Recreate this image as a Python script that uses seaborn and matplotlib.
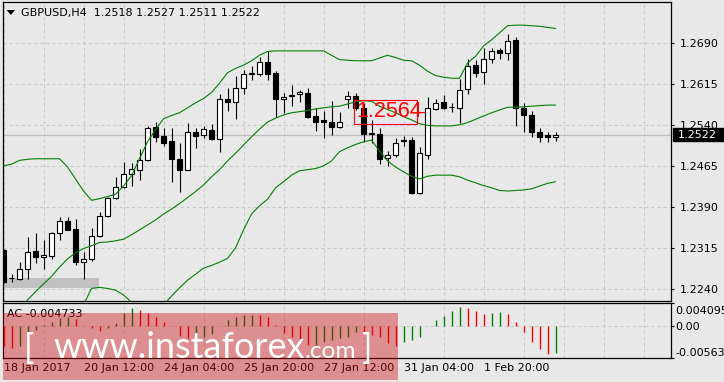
import numpy as np
import pandas as pd
import matplotlib
matplotlib.use("Agg")
import matplotlib.pyplot as plt
import matplotlib.transforms as mtrans
from matplotlib.patches import Rectangle, Polygon
import seaborn as sns

# ---------------- data ----------------
symbol_title = "GBPUSD,H4  1.2518 1.2527 1.2511 1.2522"
date_labels = ["18 Jan 2017", "20 Jan 12:00", "24 Jan 04:00", "25 Jan 20:00",
               "27 Jan 12:00", "31 Jan 04:00", "1 Feb 20:00"]
date_label_bars = [0, 10, 20, 30, 40, 50, 60]
price_ticks = [1.2240, 1.2315, 1.2390, 1.2465, 1.2540, 1.2615, 1.2690]

opens = [1.2311, 1.2261, 1.2258, 1.2276, 1.2309, 1.2298, 1.2301, 1.2342, 1.2364, 1.2349,
         1.2290, 1.2294, 1.2336, 1.2373, 1.2406, 1.2426, 1.2451, 1.2457, 1.2476, 1.2536,
         1.2519, 1.2510, 1.2477, 1.2458, 1.2527, 1.2521, 1.2530, 1.2514, 1.2588, 1.2581,
         1.2608, 1.2633, 1.2633, 1.2655, 1.2634, 1.2587, 1.2594, 1.2596, 1.2599, 1.2556,
         1.2548, 1.2546, 1.2536, 1.2588, 1.2593, 1.2570, 1.2525, 1.2524, 1.2479, 1.2484,
         1.2512, 1.2513, 1.2415, 1.2485, 1.2569, 1.2581, 1.2573, 1.2570, 1.2605, 1.2649,
         1.2637, 1.2660, 1.2677, 1.2672, 1.2695, 1.2571, 1.2558, 1.2526, 1.2521, 1.2518]
highs = [1.2313, 1.2267, 1.2290, 1.2335, 1.2342, 1.2329, 1.2344, 1.2372, 1.2372, 1.2367,
         1.2307, 1.2352, 1.2381, 1.2409, 1.2444, 1.2472, 1.2471, 1.2496, 1.2538, 1.2545,
         1.2534, 1.2534, 1.2506, 1.2543, 1.2534, 1.2538, 1.2542, 1.2597, 1.2607, 1.2629,
         1.2640, 1.2647, 1.2664, 1.2675, 1.2639, 1.2598, 1.2612, 1.2604, 1.2607, 1.2570,
         1.2565, 1.2584, 1.2563, 1.2602, 1.2598, 1.2580, 1.2549, 1.2534, 1.2493, 1.2515,
         1.2520, 1.2518, 1.2500, 1.2591, 1.2588, 1.2594, 1.2579, 1.2623, 1.2660, 1.2658,
         1.2681, 1.2680, 1.2680, 1.2706, 1.2700, 1.2579, 1.2565, 1.2534, 1.2526, 1.2527]
lows = [1.2251, 1.2252, 1.2257, 1.2258, 1.2288, 1.2276, 1.2294, 1.2329, 1.2347, 1.2284,
        1.2258, 1.2291, 1.2335, 1.2371, 1.2404, 1.2425, 1.2428, 1.2439, 1.2473, 1.2509,
        1.2502, 1.2435, 1.2418, 1.2457, 1.2498, 1.2516, 1.2512, 1.2491, 1.2565, 1.2550,
        1.2596, 1.2622, 1.2630, 1.2622, 1.2555, 1.2561, 1.2575, 1.2582, 1.2552, 1.2529,
        1.2515, 1.2521, 1.2535, 1.2570, 1.2567, 1.2509, 1.2507, 1.2468, 1.2465, 1.2482,
        1.2502, 1.2414, 1.2414, 1.2477, 1.2567, 1.2569, 1.2564, 1.2543, 1.2596, 1.2628,
        1.2614, 1.2653, 1.2661, 1.2658, 1.2537, 1.2526, 1.2517, 1.2509, 1.2509, 1.2511]
closes = [1.2253, 1.2261, 1.2276, 1.2307, 1.2298, 1.2302, 1.2342, 1.2364, 1.2348, 1.2290,
          1.2294, 1.2336, 1.2373, 1.2406, 1.2426, 1.2450, 1.2459, 1.2476, 1.2534, 1.2518,
          1.2507, 1.2477, 1.2457, 1.2526, 1.2520, 1.2532, 1.2514, 1.2588, 1.2581, 1.2607,
          1.2633, 1.2634, 1.2655, 1.2632, 1.2588, 1.2590, 1.2592, 1.2600, 1.2555, 1.2546,
          1.2546, 1.2536, 1.2546, 1.2593, 1.2570, 1.2524, 1.2524, 1.2478, 1.2485, 1.2507,
          1.2510, 1.2416, 1.2488, 1.2570, 1.2579, 1.2571, 1.2572, 1.2604, 1.2647, 1.2635,
          1.2660, 1.2674, 1.2672, 1.2694, 1.2570, 1.2557, 1.2526, 1.2518, 1.2517, 1.2522]

bb_upper = [1.2465, 1.2468, 1.2475, 1.2477, 1.2478, 1.2478, 1.2478, 1.2478, 1.2463, 1.2441,
            1.2419, 1.2402, 1.2405, 1.2409, 1.2413, 1.2428, 1.2447, 1.2478, 1.2509, 1.2531,
            1.2551, 1.2557, 1.2562, 1.2571, 1.2580, 1.2588, 1.2599, 1.2616, 1.2635, 1.2643,
            1.2649, 1.2657, 1.2667, 1.2674, 1.2675, 1.2675, 1.2675, 1.2675, 1.2675, 1.2675,
            1.2675, 1.2667, 1.2659, 1.2658, 1.2657, 1.2657, 1.2657, 1.2662, 1.2667, 1.2663,
            1.2658, 1.2657, 1.2649, 1.2638, 1.2630, 1.2627, 1.2625, 1.2625, 1.2653, 1.2665,
            1.2684, 1.2695, 1.2708, 1.2721, 1.2722, 1.2722, 1.2721, 1.2720, 1.2718, 1.2716]
bb_middle = [1.2178, 1.2193, 1.2205, 1.2220, 1.2235, 1.2249, 1.2263, 1.2280, 1.2295, 1.2306,
             1.2314, 1.2319, 1.2325, 1.2326, 1.2328, 1.2331, 1.2339, 1.2348, 1.2357, 1.2366,
             1.2377, 1.2386, 1.2396, 1.2407, 1.2418, 1.2430, 1.2445, 1.2458, 1.2474, 1.2488,
             1.2503, 1.2518, 1.2532, 1.2545, 1.2552, 1.2558, 1.2562, 1.2564, 1.2566, 1.2569,
             1.2571, 1.2573, 1.2574, 1.2578, 1.2582, 1.2584, 1.2583, 1.2574, 1.2568, 1.2562,
             1.2555, 1.2549, 1.2542, 1.2539, 1.2538, 1.2538, 1.2538, 1.2540, 1.2544, 1.2550,
             1.2556, 1.2562, 1.2567, 1.2572, 1.2572, 1.2573, 1.2574, 1.2575, 1.2576, 1.2576]
nan = float("nan")
bb_lower = [nan, nan, nan, nan, nan, nan, nan, nan, nan, 1.2183,
            1.2211, 1.2241, 1.2243, 1.2241, 1.2238, 1.2229, 1.2216, 1.2202, 1.2193, 1.2198,
            1.2211, 1.2227, 1.2242, 1.2256, 1.2267, 1.2278, 1.2283, 1.2289, 1.2296, 1.2315,
            1.2348, 1.2377, 1.2392, 1.2404, 1.2425, 1.2436, 1.2448, 1.2456, 1.2458, 1.2460,
            1.2465, 1.2474, 1.2491, 1.2498, 1.2504, 1.2509, 1.2512, 1.2492, 1.2474, 1.2463,
            1.2454, 1.2446, 1.2441, 1.2446, 1.2448, 1.2448, 1.2448, 1.2445, 1.2439, 1.2434,
            1.2429, 1.2425, 1.2420, 1.2419, 1.2420, 1.2421, 1.2423, 1.2428, 1.2433, 1.2436]

ac_values = [-0.00350, -0.00393, -0.00363, -0.00258, -0.00076, 0.00020, 0.00076, 0.00135, 0.00164, 0.00117,
             0.00003, -0.00041, -0.00082, -0.00041, 0.00050, 0.00223, 0.00322, 0.00281, 0.00223, 0.00164,
             0.00076, 0.00002, -0.00176, -0.00210, -0.00200, -0.00190, -0.00140, -0.00005, 0.00106, 0.00164,
             0.00190, 0.00195, 0.00190, 0.00152, 0.00012, -0.00129, -0.00188, -0.00250, -0.00345, -0.00335,
             -0.00290, -0.00246, -0.00217, -0.00190, -0.00105, -0.00117, -0.00158, -0.00188, -0.00293, -0.00346,
             -0.00276, -0.00246, -0.00188, -0.00005, 0.00106, 0.00176, 0.00264, 0.00334, 0.00311, 0.00264,
             0.00211, 0.00234, 0.00240, 0.00211, 0.00064, -0.00100, -0.00276, -0.00404, -0.00500, -0.004733]
ac_label = "AC -0.004733"
ac_ticks = [0.004095, 0.0, -0.00563]
ac_tick_labels = ["0.004095", "0.00", "-0.00563"]
current_price = 1.2522
marked_price = 1.2564
watermark_main = "www.instaforex"
watermark_tail = ".com"

# ---------------- style ----------------
BG = "#e8e8e8"
GRID = "#c8c8c8"
GREEN = "#008000"
RED = "#ff0000"
sns.set_style("white")
plt.rcParams["font.family"] = ["DejaVu Sans"]
plt.rcParams["lines.scale_dashes"] = False

W, H = 724, 382
def fx(px):
    return px / W
def fy(py):
    return 1 - py / H

fig = plt.figure(figsize=(W / 100, H / 100), dpi=100)
fig.patch.set_facecolor(BG)
ax = fig.add_axes([fx(2.7), fy(300.5), fx(671.3) - fx(2.7), fy(2.3) - fy(300.5)])
ax2 = fig.add_axes([fx(2.7), fy(357.8), fx(671.3) - fx(2.7), fy(302.7) - fy(357.8)])

bars = np.arange(len(opens))
o = np.array(opens); h = np.array(highs); l = np.array(lows); c = np.array(closes)
up = c >= o

grid_kw = dict(color=GRID, linestyle=(0, (2.2, 2.2)), linewidth=0.75)
xlim = (-0.1, 83.47)

for a in (ax, ax2):
    a.set_facecolor(BG)
    for s in a.spines.values():
        s.set_color("black")
        s.set_linewidth(0.9)
        s.set_visible(True)
    a.set_xlim(*xlim)
    a.set_xticks(np.arange(0, 85, 5), minor=True)
    a.grid(False)
    a.grid(True, which="minor", axis="x", **grid_kw)
    a.set_axisbelow(True)
    a.yaxis.tick_right()

# ---------------- main price panel ----------------
ax.axhline(current_price, color="#bdbdbd", lw=0.9, zorder=1)
ax.add_patch(Rectangle((0, 0.041), 0.1437, 0.0335, transform=ax.transAxes,
                       facecolor="#c0c0c0", edgecolor="none", zorder=1.5))

ax.vlines(bars, l, h, color="black", lw=0.8, zorder=3)
ax.bar(bars, np.abs(c - o), bottom=np.minimum(o, c), width=0.56,
       color=np.where(up, "white", "black"), edgecolor="black", linewidth=0.8, zorder=4)

df = pd.DataFrame({"bar": bars, "upper": bb_upper, "middle": bb_middle, "lower": bb_lower})
for col in ["upper", "middle", "lower"]:
    sns.lineplot(data=df, x="bar", y=col, ax=ax, color=GREEN, lw=0.8,
                 errorbar=None, zorder=5)

ax.set_xlabel(""); ax.set_ylabel("")
ax.set_xlim(*xlim)
ax.set_ylim(1.2219, 1.27638)
ax.set_xticks([])
ax.set_yticks(price_ticks)
ax.set_yticklabels([f"{v:.4f}" for v in price_ticks])
ax.grid(True, which="major", axis="y", **grid_kw)
ax.tick_params(axis="y", which="major", direction="out", length=2.5, width=0.8,
               pad=3.5, labelsize=8, colors="black", right=True, left=False)
ax.tick_params(axis="x", which="both", length=0, bottom=False)
ax.tick_params(axis="y", which="minor", length=0)

# marked price label (1.2564)
lab_half = 0.0022
ax.add_patch(Rectangle((43.85, marked_price - lab_half), 51.7 - 43.85, 2 * lab_half,
                       facecolor="none", edgecolor=RED, lw=0.8, zorder=6))
ax.plot([51.7, 52.7], [marked_price, marked_price], color=RED, lw=0.8, zorder=6)
ax.text(44.1, marked_price, f"{marked_price:.4f}", color=RED, fontsize=15.5,
        family=["Liberation Sans", "DejaVu Sans"], ha="left", va="center", zorder=7)

# current price box on the axis
blend = mtrans.blended_transform_factory(ax.transAxes, ax.transData)
ax.add_patch(Rectangle((1.0025, current_price - 0.00113), 0.0765, 0.00226, transform=blend,
                       facecolor="black", edgecolor="black", clip_on=False, zorder=10))
ax.text(1.0095, current_price, f"{current_price:.4f}", transform=blend, color="white",
        fontsize=8, ha="left", va="center", clip_on=False, zorder=11)

# ---------------- AC panel ----------------
ac = np.array(ac_values)
ac_colors = [RED] + [GREEN if ac[i] > ac[i - 1] else RED for i in range(1, len(ac))]
ax2.vlines(bars, 0, ac, colors=ac_colors, lw=1.0, zorder=3)
ax2.set_ylim(-0.00563, 0.004095)
ax2.set_xlim(*xlim)
ax2.set_yticks(ac_ticks)
ax2.set_yticklabels(ac_tick_labels)
ax2.grid(True, which="major", axis="y", **grid_kw)
ax2.set_xticks(date_label_bars)
ax2.set_xticklabels(date_labels, ha="left")
ax2.tick_params(axis="x", which="major", direction="out", length=2.5, width=0.8,
                pad=1.5, labelsize=8, colors="black")
ax2.tick_params(axis="x", which="minor", length=0)
ax2.tick_params(axis="y", which="major", direction="out", length=2.0, width=0.8,
                pad=1.0, labelsize=8, colors="black", right=True, left=False)
ylabs = ax2.get_yticklabels()
ylabs[0].set_va("top")
ylabs[0].set_transform(ylabs[0].get_transform() +
                       mtrans.ScaledTranslation(0, -3.0 / 100, fig.dpi_scale_trans))
ylabs[-1].set_va("bottom")
ax2.text(0.0069, 0.79, ac_label, transform=ax2.transAxes, fontsize=8,
         ha="left", va="center", color="black", zorder=6)

# ---------------- title ----------------
fig.add_artist(Polygon([[fx(6.7), fy(10)], [fx(15), fy(10)], [fx(10.85), fy(15)]],
                       closed=True, transform=fig.transFigure, facecolor="black",
                       edgecolor="none"))
fig.text(fx(21), fy(12.7), symbol_title, fontsize=8, ha="left", va="center", color="black")

# ---------------- watermark ----------------
fig.add_artist(Rectangle((fx(3), fy(380)), fx(398) - fx(3), fy(313) - fy(380),
                         transform=fig.transFigure, facecolor=(0.80, 0.03, 0.05),
                         alpha=0.40, edgecolor="none", zorder=20))
wm_font = dict(family=["Lato", "DejaVu Sans"], fontweight="normal", color="white", alpha=1.0)
t_main = fig.text(fx(53), fy(357.5), watermark_main, fontsize=27, ha="left",
                  va="baseline", zorder=21, **wm_font)
renderer = fig.canvas.get_renderer()
bb = t_main.get_window_extent(renderer)
t_main.set_fontsize(27 * 252.0 / bb.width)
bb = t_main.get_window_extent(renderer)
t_tail = fig.text(bb.x1 / W, fy(357.5), watermark_tail, fontsize=t_main.get_fontsize() * 0.68,
                  ha="left", va="baseline", zorder=21, **wm_font)
fig.text(fx(24), fy(358.5), "[", fontsize=t_main.get_fontsize() * 0.95, ha="left",
         va="baseline", zorder=21, **wm_font)
bb2 = t_tail.get_window_extent(renderer)
fig.text(bb2.x1 / W + fx(6), fy(358.5), "]", fontsize=t_main.get_fontsize() * 0.95,
         ha="left", va="baseline", zorder=21, **wm_font)

fig.savefig("out.png", dpi=100, facecolor=BG)
